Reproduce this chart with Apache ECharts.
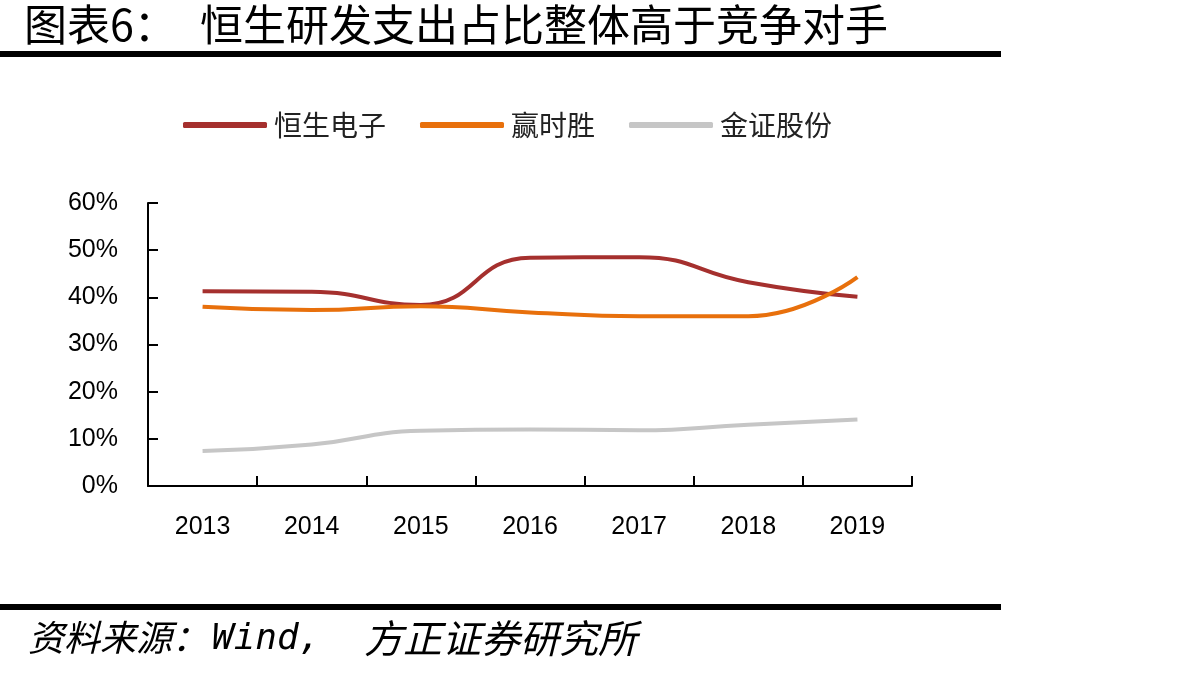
<!DOCTYPE html>
<html>
<head>
<meta charset="utf-8">
<script src="https://cdn.jsdelivr.net/npm/echarts@6/dist/echarts.min.js"></script>
<style>
  html, body { margin: 0; padding: 0; background: #fff; }
  #chart-container { width: 1195px; height: 679px; }
</style>
</head>
<body>
<div id="chart-container"></div>
<script>
// data (percent)
var years = ['2013', '2014', '2015', '2016', '2017', '2018', '2019'];
var hengsheng = [41.3, 41.2, 38.4, 48.4, 48.5, 43.2, 40.1];
var yingshisheng = [38.0, 37.3, 38.1, 36.8, 36.0, 36.0, 44.3];
var jinzheng = [7.4, 8.8, 11.7, 12.0, 11.8, 13.0, 14.1];

var dom = document.getElementById('chart-container');
var myChart = echarts.init(dom, null, { renderer: 'canvas' });

var cjk = '"Noto Sans CJK SC", sans-serif';
var num = '"Liberation Sans", Arial, sans-serif';
var mono = '"DejaVu Sans Mono", monospace';

var option = {
  animation: false,
  backgroundColor: '#fff',
  graphic: [
    { type: 'text', left: 24, top: 3, style: { text: '图表6：', font: '43px ' + cjk, fill: '#000' } },
    { type: 'text', left: 200, top: 3, style: { text: '恒生研发支出占比整体高于竞争对手', font: '43px ' + cjk, fill: '#000' } },
    { type: 'rect', shape: { x: 0, y: 51, width: 1001, height: 6 }, style: { fill: '#000' } },
    { type: 'rect', shape: { x: 0, y: 604, width: 1001, height: 6 }, style: { fill: '#000' } },
    { type: 'text', left: 28, top: 619, style: { text: '资料来源：', font: 'italic 36px ' + cjk, fill: '#000' } },
    { type: 'text', left: 212, top: 622, style: { text: 'Wind,', font: 'italic 36px ' + mono, fill: '#000' } },
    { type: 'text', left: 364, top: 619, style: { text: '方正证券研究所', font: 'italic 39px ' + cjk, fill: '#000' } }
  ],
  legend: {
    left: 178,
    top: 106,
    itemWidth: 84,
    itemHeight: 6,
    itemGap: 34,
    icon: 'roundRect',
    textStyle: { fontFamily: cjk, fontSize: 28, color: '#222', padding: [0, 0, 0, 2] },
    data: ['恒生电子', '赢时胜', '金证股份']
  },
  grid: { left: 148, right: 283, top: 203, bottom: 193 },
  xAxis: {
    type: 'category',
    data: years,
    boundaryGap: true,
    axisLine: { lineStyle: { color: '#000', width: 2 } },
    axisTick: { show: true, interval: 0, inside: true, length: 10, lineStyle: { color: '#000', width: 2 } },
    axisLabel: { color: '#000', fontFamily: num, fontSize: 25, margin: 29 }
  },
  yAxis: {
    type: 'value',
    min: 0,
    max: 60,
    interval: 10,
    axisLine: { show: true, lineStyle: { color: '#000', width: 2 } },
    axisTick: { show: true, inside: true, length: 10, lineStyle: { color: '#000', width: 2 } },
    splitLine: { show: false },
    axisLabel: { color: '#000', fontFamily: num, fontSize: 25, margin: 30, formatter: '{value}%' }
  },
  series: [
    {
      name: '恒生电子', type: 'line', data: hengsheng, smooth: 0.5, showSymbol: false,
      lineStyle: { color: '#A5302E', width: 4 }, itemStyle: { color: '#A5302E' }
    },
    {
      name: '赢时胜', type: 'line', data: yingshisheng, smooth: 0.5, showSymbol: false,
      lineStyle: { color: '#E8700C', width: 4 }, itemStyle: { color: '#E8700C' }
    },
    {
      name: '金证股份', type: 'line', data: jinzheng, smooth: 0.5, showSymbol: false,
      lineStyle: { color: '#C6C6C6', width: 4 }, itemStyle: { color: '#C6C6C6' }
    }
  ]
};

if (option && typeof option === 'object') {
  myChart.setOption(option);
}
window.addEventListener('resize', myChart.resize);
</script>
</body>
</html>
